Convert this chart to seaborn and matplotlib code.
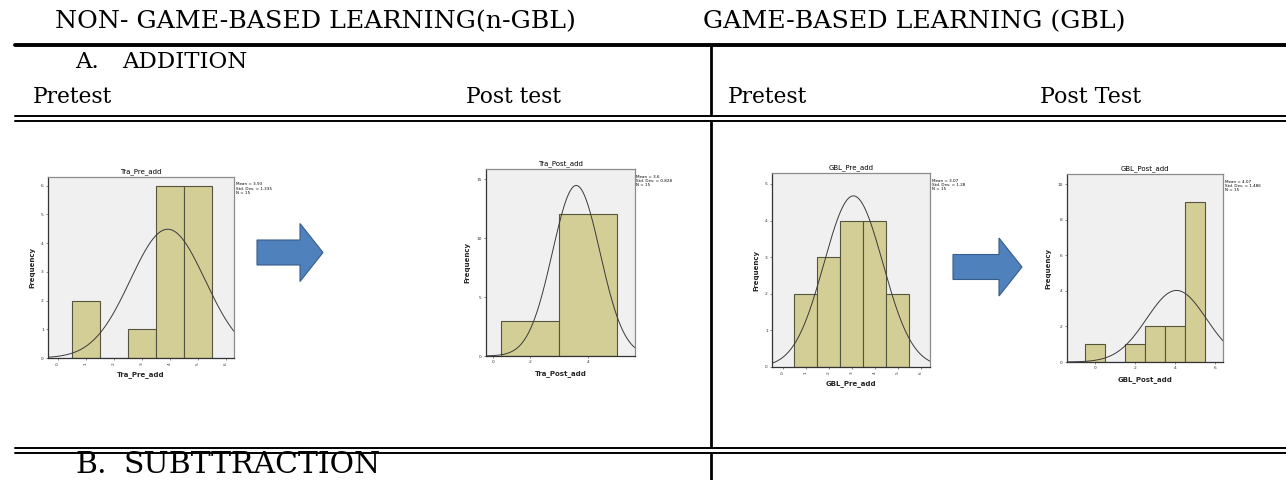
import numpy as np
import pandas as pd
import seaborn as sns
import matplotlib.pyplot as plt
from matplotlib.patches import FancyArrow

# ---- data ----
# A. ADDITION, four SPSS style histograms (score value -> frequency)
tra_pre_values = [1, 3, 4, 5]
tra_pre_counts = [2, 1, 6, 6]
tra_pre_edges = [0.5, 1.5, 2.5, 3.5, 4.5, 5.5]

tra_post_values = [2, 4]
tra_post_counts = [3, 12]
tra_post_edges = [1, 3, 5]

gbl_pre_values = [1, 2, 3, 4, 5]
gbl_pre_counts = [2, 3, 4, 4, 2]
gbl_pre_edges = [0.5, 1.5, 2.5, 3.5, 4.5, 5.5]

gbl_post_values = [0, 2, 3, 4, 5]
gbl_post_counts = [1, 1, 2, 2, 9]
gbl_post_edges = [-0.5, 0.5, 1.5, 2.5, 3.5, 4.5, 5.5]

# normal curve statistics printed beside each chart
means = [3.93, 3.6, 3.07, 4.07]
std_devs = [1.335, 0.828, 1.28, 1.486]
n_cases = [15, 15, 15, 15]

titles = ['Tra_Pre_add', 'Tra_Post_add', 'GBL_Pre_add', 'GBL_Post_add']

W, H = 1286, 480
BAR = '#D3CD96'
EDGE = '#55553F'
PANEL = '#F0F0F0'

sns.set_style('white')
plt.rcParams['font.family'] = ['DejaVu Sans']
plt.rcParams['text.color'] = 'black'
SERIF = ['DejaVu Serif']

fig = plt.figure(figsize=(W / 100, H / 100), dpi=100)
bg = fig.add_axes([0, 0, 1, 1])
bg.set_xlim(0, W)
bg.set_ylim(H, 0)
bg.axis('off')


def px_rect(left, top, right, bottom):
    return [left / W, 1 - bottom / H, (right - left) / W, (bottom - top) / H]


# ---- table rules ----
bg.plot([15, W], [44.5, 44.5], color='black', lw=2.8)
for y in (115.5, 120.5, 447.5, 452.5):
    bg.plot([15, W], [y, y], color='black', lw=1.4)
bg.plot([711, 711], [46, 114], color='black', lw=2.0)
bg.plot([711, 711], [122, 446], color='black', lw=2.0)
bg.plot([711, 711], [454, H], color='black', lw=2.0)

# ---- text ----
def label(x, y, s, size):
    bg.text(x, y, s, family=SERIF, fontsize=size, va='center', ha='left', color='black')


label(55, 22, 'NON- GAME-BASED LEARNING(n-GBL)', 18.2)
label(703, 22, 'GAME-BASED LEARNING (GBL)', 18.2)
label(75, 62, 'A.', 16.5)
label(122, 62, 'ADDITION', 16.5)
label(33, 97, 'Pretest', 15.7)
label(466, 97, 'Post test', 15.7)
label(728, 97, 'Pretest', 15.7)
label(1040, 97, 'Post Test', 15.9)
label(75, 465, 'B.', 21.5)
label(123, 465, 'SUBTTRACTION', 21.5)

# ---- arrows ----
for x0, x1, yc in ((257, 323, 252.5), (953, 1022, 267)):
    bg.add_patch(FancyArrow(x0, yc, x1 - x0, 0, width=25, head_width=58, head_length=23,
                            length_includes_head=True, facecolor='#4F81BD',
                            edgecolor='#385D8A', lw=0.8))


def draw_hist(i, rect, values, counts, edges, xlim, ylim, xticks, xlabels, yticks, rot):
    ax = fig.add_axes(px_rect(*rect))
    ax.set_facecolor(PANEL)
    sns.histplot(x=values, weights=counts, bins=edges, ax=ax, color=BAR,
                 edgecolor=EDGE, linewidth=0.8, alpha=1)
    # SPSS normal curve
    width = edges[1] - edges[0]
    xs = np.linspace(xlim[0], xlim[1], 300)
    ys = n_cases[i] * width / (std_devs[i] * np.sqrt(2 * np.pi)) * np.exp(-0.5 * ((xs - means[i]) / std_devs[i]) ** 2)
    ax.plot(xs, ys, color='#3A3A3A', lw=0.7)
    ax.set_xlim(*xlim)
    ax.set_ylim(*ylim)
    ax.set_xticks(xticks)
    ax.set_xticklabels(xlabels, rotation=rot)
    ax.set_yticks(yticks)
    ax.set_yticklabels([str(v) for v in yticks])
    ax.tick_params(labelsize=3.2, length=1.5, width=0.4, pad=1.5, colors='#333333',
                   bottom=True, left=True)
    for s in ax.spines.values():
        s.set_color('#8C8C8C')
        s.set_linewidth(0.9)
    ax.spines['bottom'].set_color('#333333')
    ax.spines['left'].set_color('#333333')
    ax.set_title(titles[i], fontsize=5, pad=2.5)
    ax.set_xlabel(titles[i], fontsize=5, fontweight='bold', labelpad=4)
    ax.set_ylabel('Frequency', fontsize=5, fontweight='bold', labelpad=4)
    ax.text(1.01, 0.97, f'Mean = {means[i]}\nStd. Dev. = {std_devs[i]}\nN = {n_cases[i]}',
            transform=ax.transAxes, fontsize=3, va='top', ha='left', linespacing=1.1)
    return ax


draw_hist(0, (48, 177, 234, 358), tra_pre_values, tra_pre_counts, tra_pre_edges,
          (-0.35, 6.3), (0, 6.3), [0, 1, 2, 3, 4, 5, 6], ['0', '1', '2', '3', '4', '5', '6'],
          [0, 1, 2, 3, 4, 5, 6], 90)
draw_hist(1, (486, 169, 635, 356), tra_post_values, tra_post_counts, tra_post_edges,
          (0.47, 5.64), (0, 15.85), [0.7, 2, 4], ['0', '2', '4'],
          [0, 5, 10, 15], 0)
draw_hist(2, (772, 173, 930, 367), gbl_pre_values, gbl_pre_counts, gbl_pre_edges,
          (-0.47, 6.4), (0, 5.3), [0, 1, 2, 3, 4, 5, 6], ['0', '1', '2', '3', '4', '5', '6'],
          [0, 1, 2, 3, 4, 5], 90)
draw_hist(3, (1067, 174, 1223, 362), gbl_post_values, gbl_post_counts, gbl_post_edges,
          (-1.39, 6.39), (0, 10.58), [0, 2, 4, 6], ['0', '2', '4', '6'],
          [0, 2, 4, 6, 8, 10], 0)

fig.savefig('out.png', dpi=100)
